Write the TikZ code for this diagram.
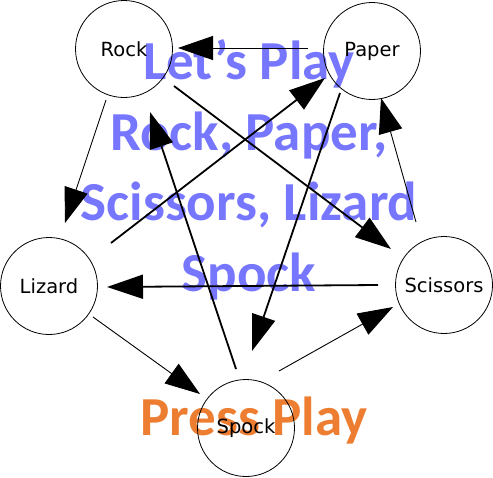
\documentclass[tikz,border=0pt]{standalone}
\usepackage{fontspec}
\setmainfont{DejaVu Sans}
\newfontfamily\carlito{Carlito}
\usetikzlibrary{arrows.meta}
\definecolor{titleblue}{RGB}{118,118,255}
\definecolor{playorange}{RGB}{237,125,49}
\begin{document}
\begin{tikzpicture}[x=1pt,y=-1pt,
  circ/.style={draw=black, line width=0.8pt, circle, minimum size=97pt, inner sep=0pt,
    font=\fontsize{19.5}{22}\selectfont},
  thinarr/.style={line width=0.9pt, -{Triangle[length=35pt,width=24pt]}},
  thickarr/.style={line width=1.8pt, -{Triangle[length=36pt,width=24pt]}},
  bigtxt/.style={font=\carlito\bfseries\fontsize{55}{70.5}\selectfont, align=center, inner sep=0pt}]
\useasboundingbox (0,0) rectangle (493,477);
% background texts
\node[bigtxt, text=titleblue, anchor=base] (title) at (249,291) {Let’s Play\\Rock, Paper,\\Scissors, Lizard\\Spock};
\node[bigtxt, text=playorange, anchor=base] (play) at (254,435) {Press Play};
% nodes
\node[circ] (rock) at (124,49) {Rock};
\node[circ] (pap) at (372,51) {Paper};
\node[circ] (liz) at (49,286) {Lizard};
\node[circ] (sci) at (444,285) {Scissors};
\node[circ] (spk) at (246,428) {Spock};
% edges
\draw[thinarr] ([shift={(-64,-3)}]pap.center) -- ([shift={(54,-1)}]rock.center);
\draw[thinarr] ([shift={(-18,51)}]rock.center) -- ([shift={(16,-63)}]liz.center);
\draw[thickarr] ([shift={(50,37)}]rock.center) -- ([shift={(-53,-36)}]sci.center);
\draw[thickarr] ([shift={(62,-43)}]liz.center) -- ([shift={(-47,27)}]pap.center);
\draw[thickarr] ([shift={(-10,-59)}]spk.center) -- ([shift={(26,63)}]rock.center);
\draw[thickarr] ([shift={(-32,42)}]pap.center) -- ([shift={(6,-77)}]spk.center);
\draw[thinarr] ([shift={(-28,-63)}]sci.center) -- ([shift={(9,47)}]pap.center);
\draw[thickarr] ([shift={(-66,0)}]sci.center) -- ([shift={(58,1)}]liz.center);
\draw[thinarr] ([shift={(44,31)}]liz.center) -- ([shift={(-46,-34)}]spk.center);
\draw[thinarr] ([shift={(33,-57)}]spk.center) -- ([shift={(-51,22)}]sci.center);
\end{tikzpicture}
\end{document}
